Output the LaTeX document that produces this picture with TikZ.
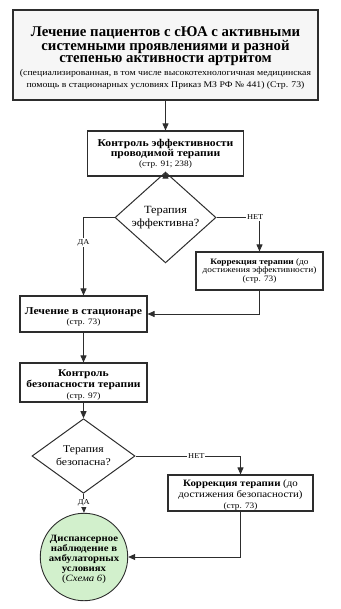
\documentclass[tikz,border=0pt]{standalone}
\usepackage{fontspec}
\setmainfont{Liberation Serif}
\newfontfamily\wide[FakeStretch=1.12]{Liberation Serif}
\usetikzlibrary{shapes.geometric, arrows.meta}
\definecolor{linegray}{RGB}{45, 45, 45}
\definecolor{titlefill}{RGB}{246, 246, 246}
\definecolor{circlegreen}{RGB}{210, 240, 204}
\newcommand{\bigf}{\fontsize{14.8}{15.4}\selectfont\bfseries}
\newcommand{\smallf}{\wide\fontsize{8.7}{10.5}\selectfont\mdseries}
\newcommand{\pagef}{\wide\fontsize{8.3}{9}\selectfont\mdseries}

\begin{document}
\begin{tikzpicture}[x=1pt, y=-1pt,
    box/.style={draw=linegray, line width=1.1pt, fill=white, align=center, inner sep=0pt},
    decision/.style={diamond, draw=linegray, line width=1pt, align=center, inner sep=0pt},
    flow/.style={-{Triangle[length=7pt, width=6pt]}, draw=linegray, line width=0.8pt},
    tag/.style={fill=white, font=\wide\fontsize{7.5}{8}\selectfont, inner sep=0.8pt}]
    \useasboundingbox (0, 0) rectangle (340, 609);

    % Title block
    \node[box, fill=titlefill, line width=1.5pt, minimum width=305, minimum height=90] (title) at (165.5, 55) {\bigf\rule{0pt}{16pt}Лечение пациентов с сЮА с активными\\\bigf системными проявлениями и разной\\\bigf степенью активности артритом\\[1pt]\smallf (специализированная, в том числе высокотехнологичная медицинская\\\smallf помощь в стационарных условиях Приказ МЗ РФ № 441) (Стр. 73)};

    % Efficacy branch
    \node[box, minimum width=156, minimum height=45, font=\wide\fontsize{10.4}{10.5}\selectfont\bfseries] (effctrl) at (165.5, 153.5) {Контроль эффективности\\проводимой терапии\\[-1pt]\pagef (стр. 91; 238)};
    \node[decision, minimum width=101, minimum height=51, font=\wide\fontsize{11}{13.5}\selectfont] (effq) at (165.5, 217.5) {Терапия\\эффективна?};
    \node[box, minimum width=127, minimum height=38, font=\wide\fontsize{8.3}{8.7}\selectfont] (effcorr) at (259.5, 271) {\textbf{Коррекция терапии} (до\\достижения эффективности)\\(стр. 73)};

    % Hospital treatment
    \node[box, minimum width=127, minimum height=36, font=\wide\fontsize{10.5}{10}\selectfont\bfseries] (hosp) at (83.5, 314) {\rule{0pt}{13pt}Лечение в стационаре\\\pagef (стр. 73)};
    \node[box, minimum width=127, minimum height=39, font=\wide\fontsize{10.3}{10.8}\selectfont\bfseries] (safectrl) at (83.5, 382.5) {\rule{0pt}{12pt}Контроль\\безопасности терапии\\\pagef (стр. 97)};

    % Safety branch
    \node[decision, minimum width=103, minimum height=54, font=\wide\fontsize{10.4}{13}\selectfont] (safeq) at (83.5, 456) {Терапия\\безопасна?};
    \node[box, minimum width=145, minimum height=36, font=\wide\fontsize{9.7}{11}\selectfont] (safecorr) at (240.5, 493) {\rule{0pt}{11pt}\textbf{Коррекция терапии} (до\\достижения безопасности)\\\pagef (стр. 73)};
    \node[circle, draw=linegray, line width=0.9pt, fill=circlegreen, minimum size=78, inner sep=0pt, align=center, font=\wide\fontsize{9.6}{9.8}\selectfont\bfseries] (outpat) at (84, 557) {\rule{0pt}{11pt}Диспансерное\\наблюдение в\\амбулаторных\\условиях\\\mdseries(\textit{Схема 6})};

    % Connectors
    \draw[flow] (title) -- (effctrl);
    \draw[flow] (effctrl) -- (effq);
    \draw[flow] (effq.west) -| node[tag, pos=0.66] (yes1) {ДА} (hosp.north);
    \draw[flow] (effq.east) -| node[tag, pos=0.45] (no1) {НЕТ} (effcorr.north);
    \draw[flow] (effcorr.south) |- (hosp.east);
    \draw[flow] (hosp) -- (safectrl);
    \draw[flow] (safectrl) -- (safeq);
    \draw[flow] (safeq.east) -| node[tag, pos=0.29] (no2) {НЕТ} (safecorr.north);
    \draw[flow] (safeq.south) -- node[tag] (yes2) {ДА} (outpat.north);
    \draw[flow] (safecorr.south) |- (outpat.east);
\end{tikzpicture}
\end{document}
